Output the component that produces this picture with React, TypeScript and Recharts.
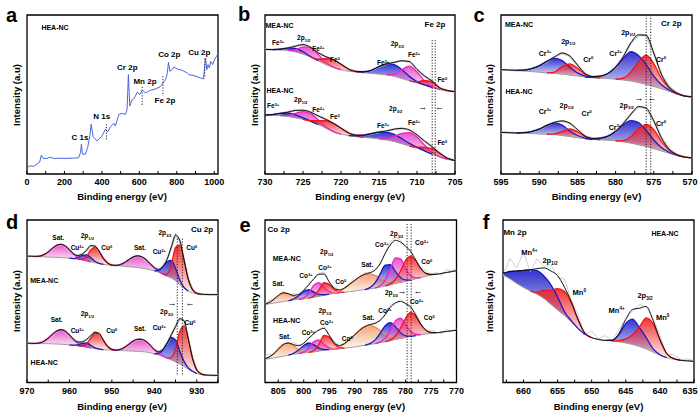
import React from "react";
import {
  ComposedChart,
  Line,
  Area,
  XAxis,
  YAxis,
  ReferenceArea,
  ReferenceLine,
} from "recharts";

type Pt = [number, number];
type Tone = "blue" | "red" | "pink" | "orange";

const FONT = "'Liberation Sans', Arial, Helvetica, sans-serif";

// values: [binding energy (eV), intensity as % of the frame height]

// a: survey
const SURVEY: Pt[] = [
  [3.6, 4.2], [17.3, 5.2], [35.7, 4.8], [53, 6.3], [67.3, 7.3], [76.5, 11.9], [85.7, 9.8], [107, 9.8],
  [124, 10.6], [143, 9.8], [178.5, 9.9], [214, 9.8], [250, 10], [276, 10.2], [285.6, 13.5], [290.7, 18.8],
  [295.8, 12.5], [312, 12.5], [324, 16.7], [335.6, 24], [342.7, 31.3], [353, 23.5], [374, 20.8], [401, 24],
  [419, 28.1], [431.5, 26.5], [446, 29.8], [464, 31.9], [472, 30.2], [490.6, 37.5], [508, 38.1], [526, 37.5],
  [534.5, 40.6], [541.6, 62.5], [548.8, 42.7], [562, 46.9], [570, 47.3], [579, 49], [588.5, 51.5], [603, 50],
  [615, 52.7], [633, 51], [660, 52.7], [686.5, 53.5], [710, 54.8], [727, 57.3], [740.5, 59.4], [748.7, 63.1],
  [755.8, 70.2], [763, 64.6], [775, 65.6], [784, 67.3], [803, 66], [829, 65.2], [856, 63.5], [865, 62.5],
  [891.5, 61.9], [927, 60.4], [941.5, 59.8], [948.6, 66.7], [953.7, 72.9], [960, 65.6], [967, 68.8], [974, 66.7],
  [981, 70.8], [991.4, 68.8], [1002.7, 72.3], [1017, 75],
];

// b: Fe 2p
const FE_M_BG: Pt[] = [
  [730, 78.4], [729, 78.2], [728, 78], [727, 77.7], [726, 76.7], [725, 75.4], [724, 73.5], [723, 71.2],
  [722, 68.8], [721, 67], [720, 65.6], [719, 64.6], [718, 64.2], [717, 63.7], [716, 63.2], [715, 62.8],
  [714, 62.3], [713, 61.4], [712, 60], [711, 58.6], [710, 57.2], [709, 55.8], [708, 54.4], [707, 53],
  [706, 52.3], [705, 51.8],
];
const FE_M_3A: Pt[] = [[729, 0], [728, 0.5], [727, 1.5], [726, 2.3], [725, 1.5], [724, 0.4], [723, 0]];
const FE_M_2A: Pt[] = [[727, 0], [726, 1.4], [725, 4.5], [724, 5.8], [723, 3.9], [722, 1.3], [721, 0.2], [720, 0]];
const FE_M_0A: Pt[] = [[724, 0], [723, 1.1], [722, 3.7], [721, 4.7], [720, 3.4], [719, 1.3], [718, 0.3], [717, 0]];
const FE_M_3B: Pt[] = [[718, 0], [717, 0.6], [716, 2], [715, 4.7], [714, 7], [713, 7.4], [712, 5.6], [711, 2.8], [710, 0.9], [709, 0.2], [708, 0]];
const FE_M_2B: Pt[] = [[714, 0], [713, 1.4], [712, 5.6], [711, 9.3], [710, 7], [709, 2.6], [708, 0.6], [707, 0]];
const FE_M_0B: Pt[] = [[711, 0], [710, 0.7], [709, 3], [708, 3.4], [707, 1.1], [706, 0.2], [705, 0]];

const FE_H_BG: Pt[] = [
  [730, 37.1], [729, 36.9], [728, 36.7], [727, 36.2], [726, 35.3], [725, 34.4], [724, 33], [723, 31.1],
  [722, 28.8], [721, 26.5], [720, 25.1], [719, 24.1], [718, 23.5], [717, 23], [716, 22.6], [715, 22.1],
  [714, 21.4], [713, 20.4], [712, 19], [711, 17.6], [710, 16.2], [709, 14.4], [708, 12.5], [707, 10.6],
  [706, 9.2], [705, 8.3],
];
const FE_H_3A: Pt[] = [[730, 0], [729, 0.5], [728, 1.4], [727, 2], [726, 1.9], [725, 0.9], [724, 0.3], [723, 0]];
const FE_H_2A: Pt[] = [[728, 0], [727, 0.7], [726, 2.8], [725, 4.8], [724, 5], [723, 3], [722, 0.9], [721, 0.2], [720, 0]];
const FE_H_0A: Pt[] = [[725, 0], [724, 0.6], [723, 2.4], [722, 4.7], [721, 5.2], [720, 3.7], [719, 1.7], [718, 0.5], [717, 0]];
const FE_H_3B: Pt[] = [[719, 0], [718, 0.5], [717, 1.4], [716, 2.8], [715, 4.2], [714, 4.8], [713, 4.5], [712, 3.2], [711, 1.7], [710, 0.7], [709, 0.2], [708, 0]];
const FE_H_2B: Pt[] = [[715, 0], [714, 0.9], [713, 3.3], [712, 6.5], [711, 8.4], [710, 7], [709, 3.7], [708, 1.2], [707, 0.3], [706, 0]];
const FE_H_0B: Pt[] = [[711, 0], [710, 0.7], [709, 2.4], [708, 3.4], [707, 2.2], [706, 0.7], [705, 0.2]];

// c: Cr 2p
const CR_M_BG: Pt[] = [
  [596, 65.7], [595, 65.6], [594, 65.4], [593, 65.2], [592, 64.8], [591, 64.4], [590, 64], [589, 63.6],
  [588, 63.2], [587, 62.8], [586, 62.2], [585, 61.6], [584, 61], [583, 60.6], [582, 60.3], [581, 60],
  [580, 59.6], [579, 59.1], [578, 58.5], [577, 57.5], [576, 56.3], [575, 55], [574, 53.6], [573, 52],
  [572, 50.3], [571, 49], [570, 48.5], [569, 48.4],
];
const CR_M_3A: Pt[] = [[593, 0], [592, 0.5], [591, 1.8], [590, 4], [589, 7.2], [588, 9.5], [587, 8.5], [586, 5], [585, 2], [584, 0.6], [583, 0]];
const CR_M_0A: Pt[] = [[589, 0], [588, 0.9], [587, 4.8], [586, 7], [585, 5], [584, 1.6], [583, 0.3], [582, 0]];
const CR_M_3B: Pt[] = [[584, 0], [583, 0.4], [582, 1.2], [581, 3.2], [580, 7.5], [579, 13.5], [578, 18.5], [577, 17], [576, 12.5], [575, 6.5], [574, 2.5], [573, 0.8], [572, 0.2], [571, 0]];
const CR_M_0B: Pt[] = [[580, 0], [579, 1.2], [578, 5.5], [577, 13], [576, 18.5], [575, 14.5], [574, 6.5], [573, 2], [572, 0.5], [571, 0.1], [570, 0]];

const CR_H_BG: Pt[] = [
  [596, 26.3], [595, 26.2], [594, 26], [593, 25.8], [592, 25.6], [591, 25.4], [590, 25.2], [589, 25],
  [588, 24.7], [587, 24.2], [586, 23.5], [585, 22.8], [584, 22.2], [583, 21.8], [582, 21.5], [581, 21.2],
  [580, 20.8], [579, 20.2], [578, 19.4], [577, 18.4], [576, 17.2], [575, 15.9], [574, 14.5], [573, 13],
  [572, 11.6], [571, 10.6], [570, 10.1], [569, 9.9],
];
const CR_H_3A: Pt[] = [[593, 0], [592, 0.4], [591, 1.3], [590, 3], [589, 5.6], [588, 7.3], [587, 6.6], [586, 3.6], [585, 1.4], [584, 0.4], [583, 0]];
const CR_H_0A: Pt[] = [[589, 0], [588, 0.5], [587, 2.6], [586, 4.9], [585, 3.8], [584, 1.3], [583, 0.3], [582, 0]];
const CR_H_3B: Pt[] = [[584, 0], [583, 0.3], [582, 1], [581, 2.6], [580, 6], [579, 10.8], [578, 14.2], [577, 14], [576, 10.2], [575, 5.5], [574, 2.2], [573, 0.7], [572, 0.2], [571, 0]];
const CR_H_0B: Pt[] = [[580, 0], [579, 0.8], [578, 4], [577, 10], [576, 14], [575, 12], [574, 6], [573, 2], [572, 0.5], [571, 0.1], [570, 0]];

// d: Cu 2p
const CU_M_BG: Pt[] = [
  [970, 77.8], [969, 77.7], [968, 77.6], [967, 77.45], [966, 77.3], [965, 77.2], [964, 77.1], [963, 77],
  [962, 76.85], [961, 76.7], [960, 76.5], [959, 76.15], [958, 75.8], [957, 75.4], [956, 74.9], [955, 74.3],
  [954, 73.7], [953, 73.15], [952, 72.7], [951, 72.45], [950, 72.2], [949, 71.95], [948, 71.75], [947, 71.5],
  [946, 71.25], [945, 71], [944, 70.75], [943, 70.4], [942, 70], [941, 69.4], [940, 68.7], [939, 67.85],
  [938, 66.65], [937, 65.45], [936, 64.25], [935, 62.6], [934, 60.2], [933, 58], [932, 56.3], [931, 55.2],
  [930, 54.6], [929, 54.35], [928, 54.2], [927, 54.1], [926, 54.1], [925, 54.1],
];
const CU_M_SA: Pt[] = [[968, 0], [967, 0.3], [966, 1.4], [965, 3.1], [964, 5.5], [963, 7.4], [962, 8.2], [961, 7.3], [960, 5.1], [959, 2.8], [958, 1.2], [957, 0.4], [956, 0.05], [955, 0]];
const CU_M_2A: Pt[] = [[960, 0], [959, 0.1], [958, 1.15], [957, 2.8], [956, 3.7], [955, 2.6], [954, 0.9], [953, 0.2], [952, 0]];
const CU_M_0A: Pt[] = [[958, 0], [957, 0.4], [956, 2.6], [955, 7.3], [954, 9.4], [953, 7.4], [952, 3.6], [951, 1.1], [950, 0]];
const CU_M_SB: Pt[] = [[950, 0], [949, 0.1], [948, 0.85], [947, 2.3], [946, 4.35], [945, 6.2], [944, 7.2], [943, 7], [942, 5.7], [941, 3.65], [940, 1.9], [939, 0.7], [938, 0.2], [937, 0]];
const CU_M_2B: Pt[] = [[940, 0], [939, 1.1], [938, 4.4], [937, 8.9], [936, 10.9], [935, 7.7], [934, 2.9], [933, 0.6], [932, 0]];
const CU_M_0B: Pt[] = [[938, 0], [937, 1.4], [936, 8.1], [935, 20.5], [934, 24.3], [933, 16.9], [932, 7.2], [931, 1.9], [930, 0.3], [929, 0]];

const CU_H_BG: Pt[] = [
  [970, 24.2], [969, 24.1], [968, 24.05], [967, 23.95], [966, 23.9], [965, 23.9], [964, 23.8], [963, 23.65],
  [962, 23.55], [961, 23.35], [960, 23.1], [959, 22.85], [958, 22.5], [957, 22.15], [956, 21.8], [955, 21.3],
  [954, 20.85], [953, 20.5], [952, 20.2], [951, 20.03], [950, 19.9], [949, 19.8], [948, 19.67], [947, 19.55],
  [946, 19.43], [945, 19.3], [944, 19.2], [943, 19.03], [942, 18.75], [941, 18.35], [940, 17.63], [939, 16.9],
  [938, 16], [937, 15], [936, 13.85], [935, 12.65], [934, 11.4], [933, 9.9], [932, 8.23], [931, 6.7],
  [930, 5.5], [929, 4.95], [928, 4.63], [927, 4.45], [926, 4.4], [925, 4.35],
];
const CU_H_SA: Pt[] = [[968, 0], [967, 0.4], [966, 1.5], [965, 3.4], [964, 5.9], [963, 8], [962, 8.9], [961, 8.25], [960, 6.1], [959, 3.5], [958, 1.6], [957, 0.6], [956, 0.1], [955, 0]];
const CU_H_2A: Pt[] = [[960, 0], [959, 0.1], [958, 0.8], [957, 1.95], [956, 2.5], [955, 1.65], [954, 0.5], [953, 0.1], [952, 0]];
const CU_H_0A: Pt[] = [[958, 0], [957, 0.3], [956, 1.95], [955, 5.8], [954, 9.6], [953, 9.4], [952, 5.7], [951, 2.1], [950, 0.45], [949, 0]];
const CU_H_SB: Pt[] = [[950, 0], [949, 0.1], [948, 0.7], [947, 2.1], [946, 4.1], [945, 6.15], [944, 7.35], [943, 7.55], [942, 6.6], [941, 4.65], [940, 2.55], [939, 1.1], [938, 0.3], [937, 0]];
const CU_H_2B: Pt[] = [[940, 0], [939, 1], [938, 4], [937, 9.1], [936, 13.9], [935, 13.6], [934, 7.9], [933, 3.1], [932, 0.75], [931, 0.2], [930, 0]];
const CU_H_0B: Pt[] = [[937, 0], [936, 1.65], [935, 8.2], [934, 20], [933, 25], [932, 18], [931, 8], [930, 2.2], [929, 0.4], [928, 0]];

// e: Co 2p
const CO_M_BG: Pt[] = [
  [809, 47.4], [808, 47.8], [807, 48.3], [806, 48.8], [805, 49.3], [804, 49.8], [803, 50.3], [802, 50.8],
  [801, 51.2], [800, 51.5], [799, 51.9], [798, 52.4], [797, 53], [796, 53.7], [795, 54.4], [794, 54.8],
  [793, 55.2], [792, 55.5], [791, 55.9], [790, 56.3], [789, 56.8], [788, 57.2], [787, 57.6], [786, 58.1],
  [785, 58.7], [784, 59.4], [783, 60.1], [782, 60.9], [781, 61.6], [780, 62.3], [779, 63], [778, 63.8],
  [777, 64.6], [776, 65.4], [775, 66.1], [774, 66.6], [773, 67.1], [772, 67.7], [771, 68.2], [770, 68.8],
];
const CO_M_SA: Pt[] = [[808, 0], [807, 0.6], [806, 2], [805, 4.2], [804, 5.4], [803, 4.3], [802, 2.2], [801, 0.8], [800, 0.2], [799, 0]];
const CO_M_3A: Pt[] = [[803, 0], [802, 0.6], [801, 2.2], [800, 4.6], [799, 5.2], [798, 3.2], [797, 1.2], [796, 0.3], [795, 0]];
const CO_M_2A: Pt[] = [[801, 0], [800, 0.6], [799, 3], [798, 7.5], [797, 8.5], [796, 5], [795, 1.6], [794, 0.3], [793, 0]];
const CO_M_0A: Pt[] = [[799, 0], [798, 0.8], [797, 4], [796, 7.7], [795, 6], [794, 2.5], [793, 0.6], [792, 0]];
const CO_M_SB: Pt[] = [[795, 0], [794, 0.4], [793, 1.2], [792, 2.6], [791, 4.5], [790, 6.5], [789, 8.3], [788, 9.4], [787, 9.2], [786, 7.8], [785, 5.7], [784, 3.6], [783, 1.9], [782, 0.8], [781, 0.3], [780, 0]];
const CO_M_3B: Pt[] = [[788, 0], [787, 0.8], [786, 3.2], [785, 8], [784, 12.8], [783, 12.5], [782, 7.5], [781, 3], [780, 0.8], [779, 0]];
const CO_M_2B: Pt[] = [[786, 0], [785, 0.8], [784, 3.6], [783, 9.5], [782, 15.8], [781, 14.5], [780, 8], [779, 2.8], [778, 0.6], [777, 0]];
const CO_M_0B: Pt[] = [[784, 0], [783, 0.6], [782, 2.5], [781, 7], [780, 12.8], [779, 14.8], [778, 11], [777, 5.5], [776, 1.8], [775, 0.4], [774, 0]];
const CO_M_NOISE: Pt[] = [
  [809, 0.4], [808, -0.8], [807, 1.2], [806, 0.6], [805, -0.5], [804, 1], [803, -0.7], [802, 0.9],
  [801, 0.2], [800, -0.6], [799, 1.1], [798, -0.3], [797, 0.5], [796, 1.3], [795, -0.7], [794, 0.9],
  [793, 0.2], [792, -0.5], [791, 1.2], [790, 0.3], [789, -0.6], [788, 1], [787, -0.3], [786, 0.8],
  [785, -1], [784, 0.5], [783, 1.6], [782, 2.3], [781, 1.2], [780, -0.5], [779, 1], [778, -1.3],
  [777, 0.8], [776, 2], [775, -0.7], [774, 1.5], [773, -1], [772, 1.8], [771, 0.6], [770, 1.2],
];

const CO_H_BG: Pt[] = [
  [809, 13.8], [808, 14.2], [807, 14.6], [806, 15.1], [805, 15.6], [804, 16.2], [803, 16.8], [802, 17.4],
  [801, 17.8], [800, 18.2], [799, 18.5], [798, 18.9], [797, 19.3], [796, 19.8], [795, 20.2], [794, 20.5],
  [793, 20.8], [792, 21.1], [791, 21.5], [790, 21.9], [789, 22.4], [788, 22.9], [787, 23.4], [786, 23.9],
  [785, 24.5], [784, 25.1], [783, 25.7], [782, 26.4], [781, 27.1], [780, 27.7], [779, 28.3], [778, 28.9],
  [777, 29.4], [776, 29.8], [775, 30.2], [774, 30.6], [773, 31], [772, 31.4], [771, 31.8], [770, 32.2],
];
const CO_H_SA: Pt[] = [[808, 0], [807, 0.7], [806, 2.3], [805, 4.8], [804, 7.2], [803, 7.5], [802, 5.3], [801, 2.6], [800, 0.9], [799, 0.2], [798, 0]];
const CO_H_3A: Pt[] = [[803, 0], [802, 0.6], [801, 2.2], [800, 4.6], [799, 5.8], [798, 4.3], [797, 1.9], [796, 0.5], [795, 0]];
const CO_H_2A: Pt[] = [[801, 0], [800, 0.5], [799, 2.6], [798, 6.3], [797, 6.9], [796, 3.8], [795, 1.1], [794, 0.2], [793, 0]];
const CO_H_0A: Pt[] = [[799, 0], [798, 0.8], [797, 4.2], [796, 9.2], [795, 7.8], [794, 3.3], [793, 0.8], [792, 0]];
const CO_H_SB: Pt[] = [[795, 0], [794, 0.4], [793, 1.2], [792, 2.8], [791, 5], [790, 7.4], [789, 9.8], [788, 11.5], [787, 11.8], [786, 10.2], [785, 7.5], [784, 4.6], [783, 2.3], [782, 0.9], [781, 0.3], [780, 0]];
const CO_H_3B: Pt[] = [[788, 0], [787, 0.5], [786, 2.2], [785, 5.8], [784, 9.8], [783, 11.2], [782, 8], [781, 3.6], [780, 1], [779, 0.2], [778, 0]];
const CO_H_2B: Pt[] = [[786, 0], [785, 0.5], [784, 2.2], [783, 6.5], [782, 11.5], [781, 12.5], [780, 8], [779, 3.2], [778, 0.8], [777, 0]];
const CO_H_0B: Pt[] = [[784, 0], [783, 0.5], [782, 2.2], [781, 6.4], [780, 11.8], [779, 14.8], [778, 11.8], [777, 6.4], [776, 2.4], [775, 0.6], [774, 0]];
const CO_H_NOISE: Pt[] = [
  [809, -0.5], [808, 1], [807, 2.2], [806, -0.6], [805, 1.5], [804, 0.4], [803, -0.8], [802, 1.3],
  [801, 0.5], [800, -0.4], [799, 0.9], [798, -0.6], [797, 0.3], [796, 1], [795, -0.5], [794, 0.8],
  [793, -0.3], [792, 0.6], [791, 1.1], [790, -0.4], [789, 0.7], [788, 0.2], [787, -0.6], [786, 0.9],
  [785, -0.8], [784, 0.6], [783, 1.2], [782, -0.7], [781, 1.5], [780, 0.4], [779, -0.9], [778, 1.3],
  [777, 0.2], [776, -1.1], [775, 1.6], [774, 0.3], [773, -0.8], [772, 1.4], [771, -0.5], [770, 0.9],
];

// f: Mn 2p
const MN_BG: Pt[] = [
  [664, 67], [663, 66], [662, 63.8], [661, 61], [660, 58.5], [659, 56.3], [658, 54.3], [657, 51.7],
  [656, 48.2], [655, 44.6], [654, 41.2], [653, 37.4], [652, 33.2], [651, 29.5], [650, 27.6], [649, 26.5],
  [648, 25.9], [647, 25.5], [646, 25], [645, 24.3], [644, 23.4], [643, 22.2], [642, 20.6], [641, 18.7],
  [640, 16.8], [639, 15.3], [638, 14.3], [637, 13.7], [636, 13.3], [635, 13.1],
];
const MN_4A: Pt[] = [[664, 0.5], [663, 1.3], [662, 4.5], [661, 7.6], [660, 10.5], [659, 13], [658, 14.6], [657, 13.8], [656, 12], [655, 8], [654, 2.5], [653, 0.7], [652, 0.1], [651, 0]];
const MN_0A: Pt[] = [[659, 0], [658, 1.2], [657, 5], [656, 8.5], [655, 13.2], [654, 15], [653, 11.8], [652, 5.5], [651, 0.8], [650, 0]];
const MN_4B: Pt[] = [[648, 0], [647, 0.5], [646, 4.5], [645, 12], [644, 15.6], [643, 11.5], [642, 7], [641, 2], [640, 0.3], [639, 0]];
const MN_0B: Pt[] = [[647, 0], [646, 0.8], [645, 2.5], [644, 6], [643, 12], [642, 19.2], [641, 17.5], [640, 9.5], [639, 2.5], [638, 0.5], [637, 0]];
const MN_NOISE: Pt[] = [
  [664, 3], [663, -2], [662, 8], [661, 2], [660, 11], [659, -1], [658, 6], [657, 1], [656, 4], [655, -1],
  [654, 5], [653, 1], [652, 3], [651, -1], [650, 4], [649, 0.5], [648, 3], [647, -0.5], [646, 2.5],
  [645, 0.5], [644, -1], [643, 2.5], [642, -0.5], [641, 1.5], [640, 2.5], [639, -0.8], [638, 2.5],
  [637, 0.3], [636, 1.2], [635, 0.5],
];

// tick values
const SURVEY_TICKS = [0, 100, 200, 300, 400, 500, 600, 700, 800, 900, 1000];
const FE_TICKS = [705, 707.5, 710, 712.5, 715, 717.5, 720, 722.5, 725, 727.5, 730];
const CR_TICKS = [570, 572.5, 575, 577.5, 580, 582.5, 585, 587.5, 590, 592.5, 595];
const CU_TICKS = [925, 930, 935, 940, 945, 950, 955, 960, 965, 970];
const CO_TICKS = [770, 772.5, 775, 777.5, 780, 782.5, 785, 787.5, 790, 792.5, 795, 797.5, 800, 802.5, 805];
const MN_TICKS = [635, 637.5, 640, 642.5, 645, 647.5, 650, 652.5, 655, 657.5, 660, 662.5];

// dotted guide lines: [eV, from, to]
const A_DOTS: [number, number, number][] = [[424, 31.3, 20.8], [615, 54.8, 43.1], [726, 61.5, 49], [949, 72.7, 60.2]];
const B_DOTS: [number, number, number][] = [[708, 84.2, 0], [707.6, 84.2, 0]];
const C_DOTS: [number, number, number][] = [[576, 100, 0], [575.4, 100, 0]];
const D_DOTS: [number, number, number][] = [[934.6, 88.5, 4], [933.4, 88.5, 4]];
const E_DOTS: [number, number, number][] = [[779.7, 97.5, 0], [778.9, 97.5, 0]];

const TONES: Record<Tone, { stroke: string; fill: string }> = {
  blue: { stroke: "#1b1bc2", fill: "#2828cc" },
  red: { stroke: "#f01418", fill: "#f02a2a" },
  pink: { stroke: "#ee22c0", fill: "#e64ec6" },
  orange: { stroke: "#f08c58", fill: "#f3a070" },
};

type Peak = { pts: Pt[]; tone: Tone };
type Spectrum = { bg: Pt[]; peaks: Peak[]; noise?: Pt[] };

const pk = (pts: Pt[], tone: Tone): Peak => ({ pts, tone });

const FE_SPECTRA: Spectrum[] = [
  { bg: FE_M_BG, peaks: [pk(FE_M_3A, "blue"), pk(FE_M_2A, "pink"), pk(FE_M_0A, "red"), pk(FE_M_3B, "blue"), pk(FE_M_2B, "pink"), pk(FE_M_0B, "red")] },
  { bg: FE_H_BG, peaks: [pk(FE_H_3A, "blue"), pk(FE_H_2A, "pink"), pk(FE_H_0A, "red"), pk(FE_H_3B, "blue"), pk(FE_H_2B, "pink"), pk(FE_H_0B, "red")] },
];
const CR_SPECTRA: Spectrum[] = [
  { bg: CR_M_BG, peaks: [pk(CR_M_3A, "blue"), pk(CR_M_0A, "red"), pk(CR_M_3B, "blue"), pk(CR_M_0B, "red")] },
  { bg: CR_H_BG, peaks: [pk(CR_H_3A, "blue"), pk(CR_H_0A, "red"), pk(CR_H_3B, "blue"), pk(CR_H_0B, "red")] },
];
const CU_SPECTRA: Spectrum[] = [
  { bg: CU_M_BG, peaks: [pk(CU_M_SA, "pink"), pk(CU_M_2A, "blue"), pk(CU_M_0A, "red"), pk(CU_M_SB, "pink"), pk(CU_M_2B, "blue"), pk(CU_M_0B, "red")] },
  { bg: CU_H_BG, peaks: [pk(CU_H_SA, "pink"), pk(CU_H_2A, "blue"), pk(CU_H_0A, "red"), pk(CU_H_SB, "pink"), pk(CU_H_2B, "blue"), pk(CU_H_0B, "red")] },
];
const CO_SPECTRA: Spectrum[] = [
  { bg: CO_M_BG, noise: CO_M_NOISE, peaks: [pk(CO_M_SA, "orange"), pk(CO_M_3A, "blue"), pk(CO_M_2A, "pink"), pk(CO_M_0A, "red"), pk(CO_M_SB, "orange"), pk(CO_M_3B, "blue"), pk(CO_M_2B, "pink"), pk(CO_M_0B, "red")] },
  { bg: CO_H_BG, noise: CO_H_NOISE, peaks: [pk(CO_H_SA, "orange"), pk(CO_H_3A, "blue"), pk(CO_H_2A, "pink"), pk(CO_H_0A, "red"), pk(CO_H_SB, "orange"), pk(CO_H_3B, "blue"), pk(CO_H_2B, "pink"), pk(CO_H_0B, "red")] },
];
const MN_SPECTRA: Spectrum[] = [
  { bg: MN_BG, noise: MN_NOISE, peaks: [pk(MN_4A, "blue"), pk(MN_0A, "red"), pk(MN_4B, "blue"), pk(MN_0B, "red")] },
];

// text: [x, y, text, superscript, subscript]
type Lbl = [number, number, string, string?, string?];

const A_TEXT: Lbl[] = [
  [80, 138.3, "C 1s"], [101.7, 117.3, "N 1s"], [127.3, 68.3, "Cr 2p"], [145, 81.7, "Mn 2p"],
  [165, 101, "Fe 2p"], [169.3, 55, "Co 2p"], [199.3, 52.7, "Cu 2p"],
];
const B_TEXT: Lbl[] = [
  [278, 42.7, "Fe", "3+"], [303.7, 39.3, "2p", "", "1/2"], [318.3, 49.3, "Fe", "2+"], [335, 60, "Fe", "0"],
  [397.3, 45, "2p", "", "3/2"], [383, 63.3, "Fe", "3+"], [414, 55, "Fe", "2+"], [442.3, 80, "Fe", "0"],
  [273, 106, "Fe", "3+"], [300.7, 100.7, "2p", "", "1/2"], [318.3, 110, "Fe", "2+"], [335, 116.7, "Fe", "0"],
  [395.7, 110, "2p", "", "3/2"], [383, 126, "Fe", "3+"], [414, 123.3, "Fe", "2+"], [442.3, 142.7, "Fe", "0"],
];
const C_TEXT: Lbl[] = [
  [545, 53.3, "Cr", "3+"], [568.3, 41.7, "2p", "", "1/2"], [588.3, 59.3, "Cr", "0"], [615.7, 52.7, "Cr", "3+"],
  [628.3, 33.3, "2p", "", "3/2"], [661, 59.3, "Cr", "0"],
  [545, 110.7, "Cr", "3+"], [566.7, 106, "2p", "", "1/2"], [586.7, 112.7, "Cr", "0"], [626.7, 106, "2p", "", "3/2"],
  [615, 126.7, "Cr", "3+"], [661, 122.7, "Cr", "0"],
];
const D_TEXT: Lbl[] = [
  [58.3, 238.3, "Sat."], [77.3, 248.3, "Cu", "2+"], [87.3, 236.7, "2p", "", "1/2"], [106.7, 247.7, "Cu", "0"],
  [140, 248.3, "Sat."], [159.3, 251.7, "Cu", "2+"], [165, 234.3, "2p", "", "3/2"], [191.7, 247.7, "Cu", "0"],
  [56.7, 320, "Sat."], [87.3, 315, "2p", "", "1/2"], [77.3, 331, "Cu", "2+"], [111.7, 331, "Cu", "0"],
  [140, 329.3, "Sat."], [159.3, 327.7, "Cu", "2+"], [166.7, 313.3, "2p", "", "3/2"], [190, 323.3, "Cu", "0"],
];
const E_TEXT: Lbl[] = [
  [278.3, 284.3, "Sat."], [306, 276, "Co", "3+"], [326.7, 253.3, "2p", "", "1/2"], [325, 267.7, "Co", "2+"],
  [340.7, 282.3, "Co", "0"], [367.3, 265, "Sat."], [381.7, 245, "Co", "3+"], [396.7, 235, "2p", "", "3/2"],
  [421.7, 243.3, "Co", "2+"], [426.7, 261.7, "Co", "0"],
  [285, 336.7, "Sat."], [308.3, 333.3, "Co", "3+"], [325, 311.7, "2p", "", "1/2"], [326.7, 323.3, "Co", "2+"],
  [347.3, 339, "Co", "0"], [368.3, 318.3, "Sat."], [385, 311, "Co", "3+"], [391.5, 293.8, "2p", "", "3/2"],
  [416.7, 301.7, "Co", "2+"], [429.3, 318.3, "Co", "0"],
];
const F_TEXT: Lbl[] = [
  [529.3, 253.3, "Mn", "4+"], [550, 261.7, "2p", "", "1/2"], [579.3, 293.3, "Mn", "0"],
  [616.7, 311, "Mn", "4+"], [645, 296.7, "2p", "", "3/2"], [662.7, 318.3, "Mn", "0"],
];
const TAGS: Lbl[] = [
  [55, 27.3, "HEA-NC"], [279.5, 25, "MEA-NC"], [280, 90, "HEA-NC"], [519, 24, "MEA-NC"], [519, 90.7, "HEA-NC"],
  [44.2, 280, "MEA-NC"], [44.2, 361.7, "HEA-NC"], [286.7, 258.3, "MEA-NC"], [286.7, 320, "HEA-NC"], [665, 233.3, "HEA-NC"],
];
const TITLES: Lbl[] = [
  [435, 25, "Fe 2p"], [671.3, 24, "Cr 2p"], [202, 230, "Cu 2p"], [278.7, 230, "Co 2p"], [515, 233.3, "Mn 2p"],
];
const ARROWS: Lbl[] = [
  [422.5, 107, "\u2192"], [439.5, 107, "\u2190"], [639, 97.7, "\u2192"], [652, 97.7, "\u2190"],
  [172, 303.3, "\u2192"], [190, 303.3, "\u2190"], [402, 291, "\u2192"], [418, 291, "\u2190"],
];
const LETTERS: Lbl[] = [
  [11.5, 15, "a"], [244, 14, "b"], [479, 15, "c"], [12, 222, "d"], [245, 225, "e"], [486, 222, "f"],
];

// layout
type Box = { x: number; y: number; w: number; h: number };
type PanelSpec = {
  id: string;
  box: Box;
  domain: [number, number];
  reversed: boolean;
  ticks: number[];
  major: number;
  spectra: Spectrum[];
  survey?: Pt[];
  dots: [number, number, number][];
  titleY: number;
  yTitleX: number;
  labelMaxX?: number;
};

const PANELS: PanelSpec[] = [
  { id: "a", box: { x: 26.5, y: 15, w: 191, h: 159 }, domain: [0, 1020], reversed: false, ticks: SURVEY_TICKS, major: 200, spectra: [], survey: SURVEY, dots: A_DOTS, titleY: 196.7, yTitleX: 17 },
  { id: "b", box: { x: 265, y: 15, w: 190, h: 159 }, domain: [705, 730], reversed: true, ticks: FE_TICKS, major: 5, spectra: FE_SPECTRA, dots: B_DOTS, titleY: 196.7, yTitleX: 255 },
  { id: "c", box: { x: 501, y: 15, w: 191, h: 159 }, domain: [570, 595], reversed: true, ticks: CR_TICKS, major: 5, spectra: CR_SPECTRA, dots: C_DOTS, titleY: 196.7, yTitleX: 490, labelMaxX: 690 },
  { id: "d", box: { x: 26.5, y: 220, w: 191, h: 162.5 }, domain: [925, 970], reversed: true, ticks: CU_TICKS, major: 10, spectra: CU_SPECTRA, dots: D_DOTS, titleY: 407.3, yTitleX: 17 },
  { id: "e", box: { x: 264.5, y: 220, w: 191.5, h: 162.5 }, domain: [770, 807.6], reversed: true, ticks: CO_TICKS, major: 5, spectra: CO_SPECTRA, dots: E_DOTS, titleY: 407.3, yTitleX: 255 },
  { id: "f", box: { x: 503, y: 220, w: 191, h: 162.5 }, domain: [635, 663], reversed: true, ticks: MN_TICKS, major: 5, spectra: MN_SPECTRA, dots: [], titleY: 407.3, yTitleX: 490, labelMaxX: 690 },
];

const M = { top: 3, right: 14, bottom: 0, left: 14 };
const AXIS_H = 17;

function at(pts: Pt[], x: number): number | undefined {
  for (const p of pts) if (p[0] === x) return p[1];
  return undefined;
}

function buildSpectrum(s: Spectrum) {
  const bg = s.bg.map(([x, y]) => ({ x, y }));
  const env = s.bg.map(([x, b]) => {
    let sum = b;
    for (const p of s.peaks) sum += at(p.pts, x) ?? 0;
    const n = s.noise ? at(s.noise, x) ?? 0 : 0;
    return { x, y: sum, raw: sum + n };
  });
  const peaks = s.peaks.map((p) => ({
    tone: p.tone,
    rows: p.pts
      .filter(([x]) => at(s.bg, x) !== undefined)
      .map(([x, h]) => {
        const b = at(s.bg, x) as number;
        return { x, band: [b, b + h], top: b + h };
      }),
  }));
  return { bg, env, peaks, noisy: !!s.noise };
}

const TONE_LIST: Tone[] = ["blue", "red", "pink", "orange"];

function Panel({ spec }: { spec: PanelSpec }) {
  const { box } = spec;
  const width = box.w + M.left + M.right;
  const height = box.h + M.top + M.bottom + AXIS_H;
  const built = spec.spectra.map(buildSpectrum);
  const originX = box.x - M.left;
  const maxX = spec.labelMaxX !== undefined ? spec.labelMaxX - originX : Infinity;

  const renderTick = (props: any) => {
    const v: number = props.payload.value;
    const text = Math.abs(v % spec.major) < 1e-6 ? String(v) : "";
    return (
      <text
        x={Math.min(props.x, maxX)}
        y={props.y}
        dy="0.71em"
        textAnchor="middle"
        fontSize={9}
        fontWeight={700}
        fontFamily={FONT}
        fill="#000"
      >
        {text}
      </text>
    );
  };

  return (
    <div style={{ position: "absolute", left: originX, top: box.y - M.top }}>
      <ComposedChart width={width} height={height} margin={M}>
        <defs>
          {TONE_LIST.map((t) => (
            <linearGradient key={t} id={`g-${spec.id}-${t}`} x1="0" y1="0" x2="0" y2="1">
              <stop offset="0%" stopColor={TONES[t].fill} stopOpacity={0.95} />
              <stop offset="100%" stopColor={TONES[t].fill} stopOpacity={0.05} />
            </linearGradient>
          ))}
        </defs>
        <XAxis
          dataKey="x"
          type="number"
          domain={spec.domain}
          reversed={spec.reversed}
          allowDataOverflow
          ticks={spec.ticks}
          interval={0}
          tickSize={-3}
          tickMargin={8}
          height={AXIS_H}
          axisLine={false}
          tickLine={{ stroke: "#000", strokeWidth: 1 }}
          tick={renderTick}
        />
        <YAxis hide type="number" domain={[0, 100]} allowDataOverflow />
        {spec.survey && (
          <Line
            data={spec.survey.map(([x, y]) => ({ x, y }))}
            dataKey="y"
            type="linear"
            stroke="#4a66e2"
            strokeWidth={1}
            dot={false}
            activeDot={false}
            isAnimationActive={false}
          />
        )}
        {built.map((s, si) => [
          <Line
            key={`raw${si}`}
            data={s.env}
            dataKey="raw"
            type="linear"
            stroke={s.noisy ? "#cfcfcf" : "#c9c9c9"}
            strokeWidth={s.noisy ? 1 : 2.2}
            dot={false}
            activeDot={false}
            isAnimationActive={false}
          />,
          <Line key={`bg${si}`} data={s.bg} dataKey="y" type="monotone" stroke="#9c9c9c" strokeWidth={1} dot={false} activeDot={false} isAnimationActive={false} />,
          ...s.peaks.map((p, pi) => (
            <Area
              key={`a${si}-${pi}`}
              data={p.rows}
              dataKey="band"
              type="monotone"
              stroke="none"
              fill={`url(#g-${spec.id}-${p.tone})`}
              fillOpacity={1}
              dot={false}
              activeDot={false}
              isAnimationActive={false}
            />
          )),
          ...s.peaks.map((p, pi) => (
            <Line
              key={`t${si}-${pi}`}
              data={p.rows}
              dataKey="top"
              type="monotone"
              stroke={TONES[p.tone].stroke}
              strokeWidth={1.3}
              dot={false}
              activeDot={false}
              isAnimationActive={false}
            />
          )),
          <Line key={`env${si}`} data={s.env} dataKey="y" type="monotone" stroke="#111" strokeWidth={1} dot={false} activeDot={false} isAnimationActive={false} />,
        ])}
        {spec.dots.map(([x, y1, y2], i) => (
          <ReferenceLine
            key={`d${i}`}
            segment={[{ x, y: y1 }, { x, y: y2 }]}
            stroke="#222"
            strokeWidth={1}
            strokeDasharray="1.2 1.6"
          />
        ))}
        <ReferenceArea
          x1={spec.domain[0]}
          x2={spec.domain[1]}
          y1={0}
          y2={100}
          fill="none"
          stroke="#000"
          strokeWidth={1.3}
        />
      </ComposedChart>
    </div>
  );
}

function Txt({ l, size }: { l: Lbl; size: number }) {
  const [x, y, t, sup, sub] = l;
  return (
    <div
      style={{
        position: "absolute",
        left: x,
        top: y,
        transform: "translate(-50%, -50%)",
        fontSize: size,
        fontWeight: 700,
        fontFamily: FONT,
        whiteSpace: "nowrap",
        lineHeight: 1,
        color: "#000",
      }}
    >
      {t}
      {sup ? <span style={{ fontSize: "0.62em", verticalAlign: "0.6em" }}>{sup}</span> : null}
      {sub ? <span style={{ fontSize: "0.62em", verticalAlign: "-0.35em" }}>{sub}</span> : null}
    </div>
  );
}

function AxisTitles({ spec }: { spec: PanelSpec }) {
  const { box } = spec;
  const common = {
    position: "absolute" as const,
    fontSize: 9.5,
    fontWeight: 700,
    fontFamily: FONT,
    whiteSpace: "nowrap" as const,
    lineHeight: 1,
  };
  return (
    <>
      <div style={{ ...common, left: box.x + box.w / 2, top: spec.titleY, transform: "translate(-50%, -50%)" }}>
        Binding energy (eV)
      </div>
      <div style={{ ...common, left: spec.yTitleX, top: box.y + box.h / 2, transform: "translate(-50%, -50%) rotate(-90deg)" }}>
        Intensity (a.u)
      </div>
    </>
  );
}

export default function App() {
  const textSets: [Lbl[], number][] = [
    [A_TEXT, 8], [B_TEXT, 6.5], [C_TEXT, 7], [D_TEXT, 6.5], [E_TEXT, 6.5], [F_TEXT, 7.5],
    [TAGS, 7], [TITLES, 8], [ARROWS, 9], [LETTERS, 20],
  ];
  return (
    <div style={{ position: "absolute", left: 0, top: 0, width: 700, height: 416, background: "#fff", overflow: "hidden" }}>
      {PANELS.map((p) => (
        <Panel key={p.id} spec={p} />
      ))}
      {PANELS.map((p) => (
        <AxisTitles key={`t${p.id}`} spec={p} />
      ))}
      {textSets.map(([set, size], si) =>
        set.map((l, i) => <Txt key={`${si}-${i}`} l={l} size={size} />)
      )}
    </div>
  );
}
